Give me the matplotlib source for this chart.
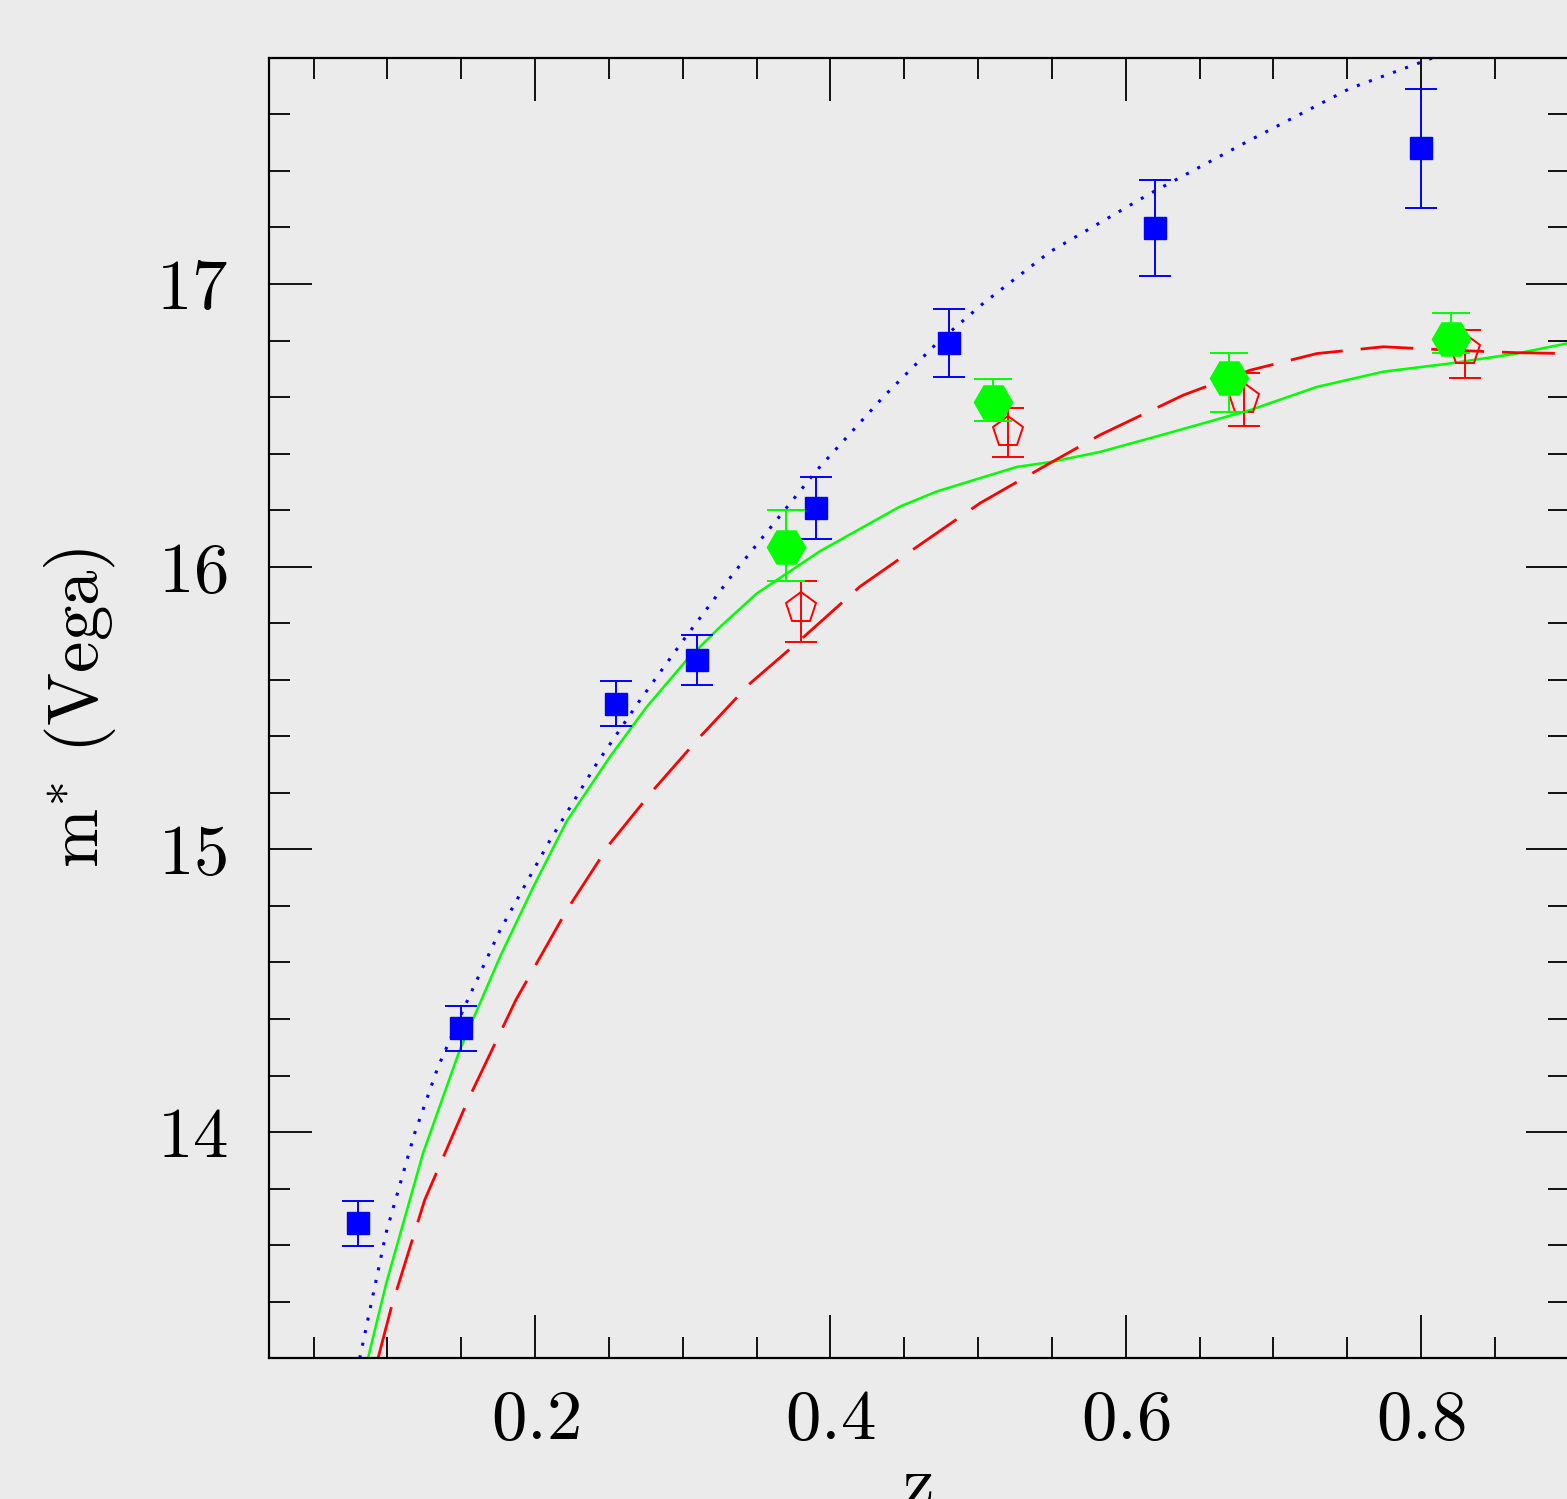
import matplotlib
matplotlib.use("Agg")
import matplotlib.pyplot as plt
from matplotlib.ticker import MultipleLocator, FixedLocator

# ---------------- data ----------------
z_blue = [0.08, 0.15, 0.255, 0.31, 0.39, 0.48, 0.62, 0.80]
m_blue = [13.677, 14.367, 15.516, 15.67, 16.208, 16.79, 17.197, 17.48]
e_blue = [0.08, 0.08, 0.08, 0.09, 0.11, 0.12, 0.17, 0.21]

z_green = [0.37, 0.51, 0.67, 0.82]
m_green = [16.07, 16.583, 16.666, 16.807]
e_green_lo = [0.122, 0.069, 0.118, 0.05]
e_green_hi = [0.129, 0.082, 0.091, 0.091]

z_red = [0.38, 0.52, 0.68, 0.83]
m_red = [15.853, 16.477, 16.595, 16.766]
e_red_lo = [0.12, 0.088, 0.098, 0.10]
e_red_hi = [0.098, 0.083, 0.089, 0.071]

z_dot = [0.0813, 0.0991, 0.1185, 0.1343, 0.1524, 0.1763, 0.2102, 0.2418, 0.2711,
         0.3004, 0.3343, 0.3908, 0.4359, 0.472, 0.5036, 0.5487, 0.6165, 0.6842,
         0.7519, 0.808]
m_dot = [13.2, 13.643, 13.996, 14.23, 14.445, 14.714, 15.033, 15.304, 15.528,
         15.74, 15.976, 16.341, 16.601, 16.79, 16.932, 17.114, 17.32, 17.509,
         17.692, 17.8]

z_solid = [0.0869, 0.0993, 0.1242, 0.149, 0.1763, 0.1989, 0.2215, 0.2508, 0.2756,
           0.3027, 0.3253, 0.3501, 0.393, 0.4472, 0.472, 0.4968, 0.5262, 0.5487,
           0.5826, 0.6278, 0.6842, 0.7294, 0.7745, 0.8196, 0.8648, 0.8989]
m_solid = [13.2, 13.466, 13.926, 14.29, 14.62, 14.868, 15.1, 15.328, 15.504,
           15.67, 15.787, 15.905, 16.055, 16.213, 16.266, 16.306, 16.353, 16.37,
           16.406, 16.471, 16.554, 16.636, 16.69, 16.719, 16.754, 16.79]

z_dash = [0.0937, 0.1027, 0.1253, 0.1546, 0.187, 0.2215, 0.2508, 0.2801, 0.3117,
          0.3456, 0.3795, 0.4201, 0.4607, 0.5014, 0.5442, 0.5826, 0.639, 0.6842,
          0.7294, 0.7745, 0.8196, 0.8648, 0.8989]
m_dash = [13.2, 13.38, 13.76, 14.113, 14.467, 14.785, 15.021, 15.21, 15.398,
          15.587, 15.74, 15.93, 16.078, 16.225, 16.353, 16.466, 16.607, 16.695,
          16.754, 16.778, 16.766, 16.757, 16.754]

x_major = [0.2, 0.4, 0.6, 0.8]
y_major = [14, 15, 16, 17]

# ---------------- style ----------------
plt.rcParams['font.family'] = ['cmr10', 'DejaVu Serif']
plt.rcParams['mathtext.fontset'] = 'cm'
plt.rcParams['axes.formatter.use_mathtext'] = True

BG = '#ebebeb'
FS = 51
fig = plt.figure(figsize=(15.67, 14.99), dpi=100, facecolor=BG)
ax = fig.add_axes([0.1718, 0.0939, 0.8293, 0.8675], facecolor=BG)

# curves
ax.plot(z_dot, m_dot, color='#0000ff', lw=2.2, linestyle=(0, (1, 3.2)),
        dash_capstyle='butt', zorder=2)
ax.plot(z_solid, m_solid, color='#00ff00', lw=1.8, zorder=2)
ax.plot(z_dash, m_dash, color='#ff0000', lw=2.0, linestyle=(0, (19, 6.5)), zorder=2)

# points
ax.errorbar(z_blue, m_blue, yerr=e_blue, fmt='s', color='#0000ff', ms=16.5,
            mec='#0000ff', mfc='#0000ff', elinewidth=1.4, capsize=11.5,
            capthick=1.4, zorder=3)
ax.errorbar(z_red, m_red, yerr=[e_red_lo, e_red_hi], fmt='p', color='#ff0000',
            ms=22.5, mfc='none', mec='#ff0000', mew=1.4, elinewidth=1.4,
            capsize=11.5, capthick=1.4, zorder=4)
ax.errorbar(z_green, m_green, yerr=[e_green_lo, e_green_hi], fmt='H',
            color='#00ff00', ms=27.5, mec='#00ff00', mfc='#00ff00',
            elinewidth=1.4, capsize=13.5, capthick=1.4, zorder=5)

ax.set_xlim(0.02, 0.9)
ax.set_ylim(13.2, 17.8)

ax.xaxis.set_major_locator(FixedLocator(x_major))
ax.xaxis.set_minor_locator(MultipleLocator(0.05))
ax.yaxis.set_major_locator(FixedLocator(y_major))
ax.yaxis.set_minor_locator(MultipleLocator(0.2))

ax.tick_params(which='both', direction='in', top=True, right=True,
               colors='black', labelsize=FS)
ax.tick_params(axis='x', which='both', pad=22)
ax.tick_params(axis='y', which='both', pad=30)
ax.tick_params(which='major', length=31, width=1.3)
ax.tick_params(which='minor', length=15, width=1.3)
for s in ax.spines.values():
    s.set_linewidth(1.6)

ax.set_xlabel('z', fontsize=FS, labelpad=2)
ax.set_ylabel(r'm$^{*}$ (Vega)', fontsize=FS, labelpad=27)

fig.savefig('out.png', dpi=100, facecolor=BG)
